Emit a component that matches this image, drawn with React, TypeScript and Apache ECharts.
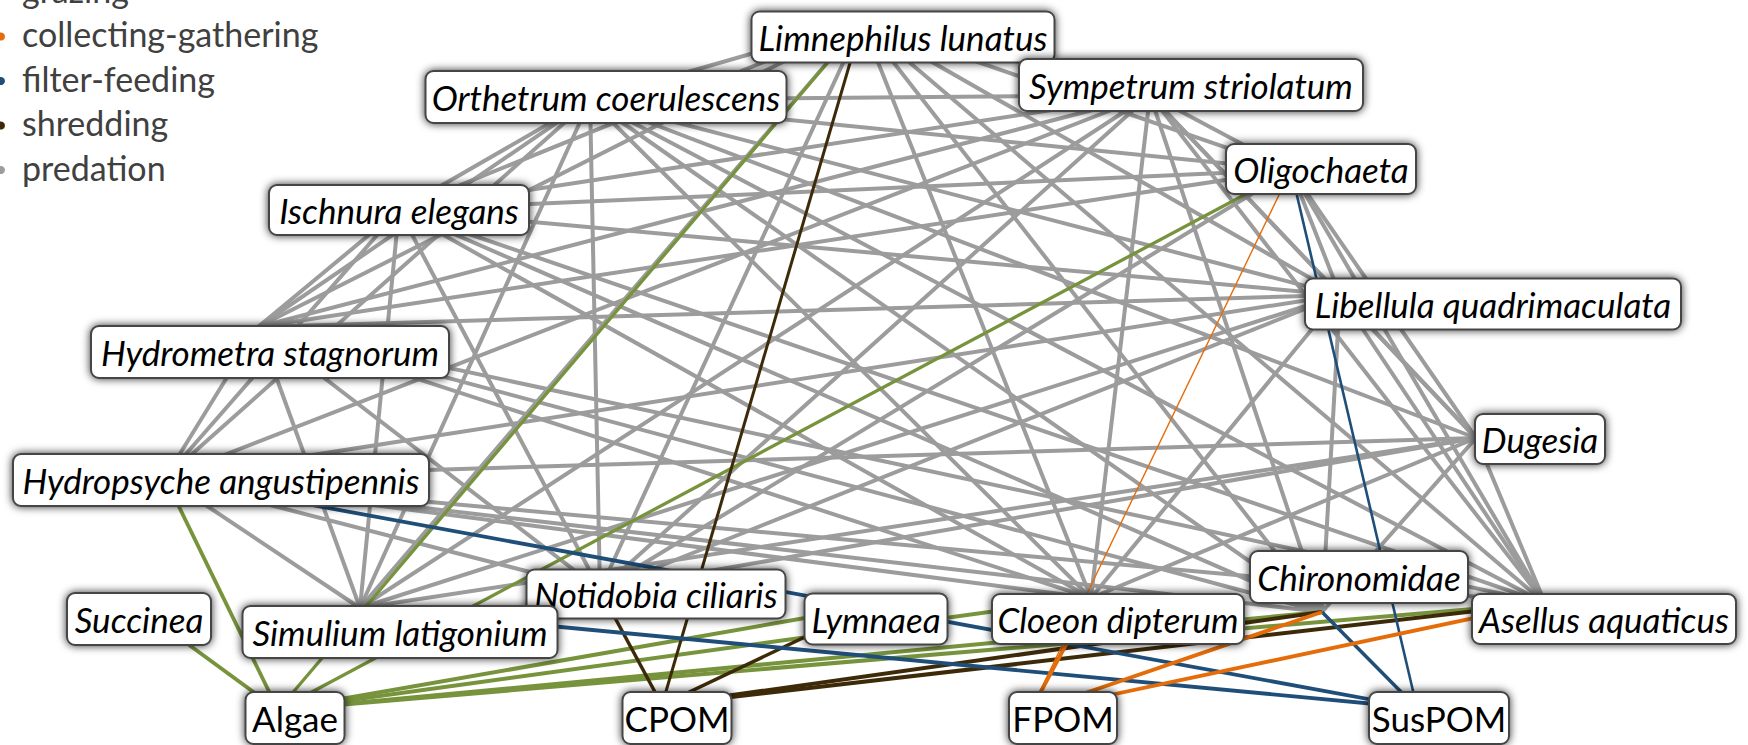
import React, { useEffect, useRef } from "react";
import * as echarts from "echarts";

const W = 1748;
const H = 745;

// ---------- data ----------
const abbr: Record<string, string> = {
  Lim: "Limnephilus lunatus",
  Ort: "Orthetrum coerulescens",
  Sym: "Sympetrum striolatum",
  Oli: "Oligochaeta",
  Isc: "Ischnura elegans",
  Lib: "Libellula quadrimaculata",
  Hym: "Hydrometra stagnorum",
  Dug: "Dugesia",
  Hyd: "Hydropsyche angustipennis",
  Not: "Notidobia ciliaris",
  Chi: "Chironomidae",
  Suc: "Succinea",
  Sim: "Simulium latigonium",
  Lym: "Lymnaea",
  Clo: "Cloeon dipterum",
  Ase: "Asellus aquaticus",
  Alg: "Algae",
  CPOM: "CPOM",
  FPOM: "FPOM",
  Sus: "SusPOM",
};

const nodeKeys = ["Lim", "Ort", "Sym", "Oli", "Isc", "Lib", "Hym", "Dug", "Hyd", "Not", "Chi", "Suc", "Sim", "Lym", "Clo", "Ase", "Alg", "CPOM", "FPOM", "Sus"];
const nodeX = [862, 590, 1150, 1291, 399, 1340, 258, 1476, 165, 600, 1322, 155, 360, 868, 1091, 1545, 278, 662, 1030, 1417];
const nodeY = [22, 100, 95, 170, 210, 295, 327, 438, 478, 590, 612, 620, 608, 607, 598, 603, 710, 705, 712, 708];
const resourceKeys = ["Alg", "CPOM", "FPOM", "Sus"];

const legendNames = ["grazing", "collecting-gathering", "filter-feeding", "shredding", "predation"];
const legendColors = ["#77933c", "#e46c0a", "#1f4e79", "#3d2a08", "#9c9c9c"];

// [consumer, resource, width]
const grazingLinks: [string, string, number][] = [
  ["Suc", "Alg", 3.8], ["Hyd", "Alg", 3.8], ["Lim", "Alg", 3.3], ["Oli", "Alg", 3.3],
  ["Lym", "Alg", 4], ["Clo", "Alg", 4], ["Chi", "Alg", 4], ["Ase", "Alg", 4],
];
const collectingLinks: [string, string, number][] = [
  ["Oli", "FPOM", 1.4], ["Clo", "FPOM", 3.8], ["Chi", "FPOM", 3.8], ["Ase", "FPOM", 3.8],
];
const filterLinks: [string, string, number][] = [
  ["Oli", "Sus", 2.6], ["Hyd", "Sus", 3.8], ["Sim", "Sus", 3.8], ["Chi", "Sus", 3.5],
];
const shreddingLinks: [string, string, number][] = [
  ["Lim", "CPOM", 3], ["Not", "CPOM", 3.5], ["Lym", "CPOM", 3.5], ["Chi", "CPOM", 4], ["Ase", "CPOM", 4],
];
// predator -> prey list
const predationPredators = ["Ort", "Sym", "Isc", "Lib", "Hym", "Dug", "Hyd", "Lim", "Oli"];
const predationPrey: string[][] = [
  ["Lim", "Sym", "Isc", "Hym", "Hyd", "Oli", "Lib", "Dug", "Sim", "Not", "Clo", "Chi", "Ase"],
  ["Lim", "Isc", "Hym", "Hyd", "Oli", "Lib", "Dug", "Sim", "Not", "Clo", "Chi", "Ase"],
  ["Lim", "Hym", "Hyd", "Oli", "Lib", "Sim", "Not", "Clo", "Chi", "Ase"],
  ["Lim", "Hym", "Hyd", "Oli", "Dug", "Sim", "Not", "Clo", "Chi", "Ase"],
  ["Lim", "Hyd", "Oli", "Sim", "Not", "Clo", "Chi", "Ase"],
  ["Hyd", "Oli", "Sim", "Not", "Clo", "Chi", "Ase"],
  ["Sim", "Not", "Clo", "Chi", "Ase"],
  ["Oli", "Sim", "Not", "Clo", "Chi", "Ase"],
  ["Not", "Ase"],
];

// ---------- layout (label boxes: centre x, centre y, width, height in px) ----------
const labelBoxes: Record<string, [number, number, number, number]> = {
  Lim: [903, 37, 301, 49],
  Ort: [606, 97, 359, 50],
  Sym: [1191, 85, 342, 50],
  Oli: [1321, 169, 188, 48],
  Isc: [399, 210, 258, 48],
  Lib: [1493, 304, 374, 49],
  Hym: [270, 352, 356, 50],
  Dug: [1540, 439, 128, 48],
  Hyd: [221, 480, 414, 50],
  Not: [656, 594, 257, 47],
  Chi: [1359, 577, 216, 50],
  Suc: [139, 619, 142, 50],
  Sim: [400, 632, 313, 50],
  Lym: [876, 619, 141, 49],
  Clo: [1118, 619, 250, 48],
  Ase: [1604, 619, 262, 48],
  Alg: [295, 718, 97, 50],
  CPOM: [677, 718, 107, 50],
  FPOM: [1063, 718, 106, 50],
  Sus: [1439, 718, 138, 50],
};
const legendTop = -11;
const legendStep = 44.5;

const FONT = "Lato, 'Open Sans', sans-serif";

export default function App() {
  const ref = useRef<HTMLDivElement>(null);
  useEffect(() => {
    if (!ref.current) return;
    const chart = echarts.init(ref.current, undefined, { renderer: "svg" });

    const nodes = nodeKeys.map((k, i) => {
      const [cx, cy, w, h] = labelBoxes[k];
      const isRes = resourceKeys.includes(k);
      const padX = 3;
      return {
        name: abbr[k],
        value: [nodeX[i], nodeY[i]],
        symbol: "circle",
        symbolSize: 1,
        itemStyle: { color: "rgba(0,0,0,0)" },
        label: {
          show: true,
          position: "inside",
          offset: [cx - nodeX[i], cy - nodeY[i]],
          formatter: abbr[k],
          fontFamily: FONT,
          fontStyle: isRes ? "normal" : "italic",
          fontSize: 35,
          color: "#000",
          backgroundColor: "#fff",
          borderColor: "#444",
          borderWidth: 2,
          borderRadius: 7,
          padding: [0, padX],
          width: w - 2 * padX,
          height: h,
          lineHeight: h,
          align: "center",
          verticalAlign: "middle",
          overflow: "none",
          shadowBlur: 9,
          shadowColor: "rgba(0,0,0,0.8)",
        },
      };
    });

    const mk = (arr: [string, string, number][], color: string) =>
      arr.map(([s, t, w]) => ({
        source: abbr[s],
        target: abbr[t],
        lineStyle: { color, width: w, opacity: 1, curveness: 0 },
      }));

    const predLinks: any[] = [];
    predationPredators.forEach((p, i) => {
      predationPrey[i].forEach((q) => {
        predLinks.push({
          source: abbr[p],
          target: abbr[q],
          lineStyle: { color: legendColors[4], width: 4, opacity: 1, curveness: 0 },
        });
      });
    });

    const links = [
      ...predLinks,
      ...mk(grazingLinks, legendColors[0]),
      ...mk(shreddingLinks, legendColors[3]),
      ...mk(filterLinks, legendColors[2]),
      ...mk(collectingLinks, legendColors[1]),
    ];

    const graphic: any[] = [];
    legendNames.forEach((n, i) => {
      const y = legendTop + i * legendStep;
      graphic.push({
        type: "circle",
        shape: { cx: 1, cy: y + 3, r: 4 },
        style: { fill: legendColors[i] },
      });
      graphic.push({
        type: "text",
        x: 22,
        y,
        style: {
          text: n,
          fontFamily: FONT,
          fontSize: 34,
          fill: "#404040",
          verticalAlign: "middle",
          align: "left",
        },
      });
    });

    chart.setOption({
      animation: false,
      backgroundColor: "#fff",
      grid: { left: 0, right: 0, top: 0, bottom: 0 },
      xAxis: { type: "value", min: 0, max: W, show: false },
      yAxis: { type: "value", min: 0, max: H, inverse: true, show: false },
      graphic,
      series: [
        {
          type: "graph",
          coordinateSystem: "cartesian2d",
          data: nodes,
          links,
          silent: true,
          emphasis: { disabled: true },
          edgeSymbol: ["none", "none"],
          lineStyle: { opacity: 1, curveness: 0 },
        },
      ],
    });
    return () => chart.dispose();
  }, []);
  return (
    <div
      ref={ref}
      style={{ position: "fixed", left: 0, top: 0, width: W, height: H, background: "#fff" }}
    />
  );
}
